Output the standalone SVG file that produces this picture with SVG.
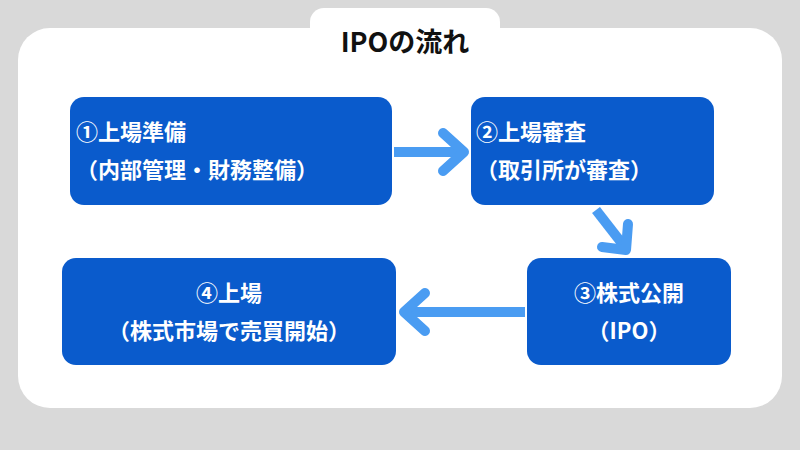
<svg xmlns="http://www.w3.org/2000/svg" width="800" height="450" viewBox="0 0 800 450">
<style>
.box{fill:#0a5bcc}
.t{font-family:"Noto Sans CJK JP","Noto Sans",sans-serif;font-weight:bold;font-size:22px;fill:#fff}
.a{stroke:#4a9cf2;stroke-width:10;fill:none}
.h{fill:none;stroke:#4a9cf2;stroke-width:10;stroke-linecap:round;stroke-linejoin:round}
</style>
<rect width="800" height="450" fill="#d9d9d9"/>
<rect x="18" y="28" width="764" height="380" rx="32" fill="#fff"/>
<rect x="310" y="8" width="190" height="50" rx="14" fill="#fff"/>
<text x="405" y="52" text-anchor="middle" font-family="Noto Sans CJK JP,sans-serif" font-weight="bold" font-size="27" fill="#111">IPOの流れ</text>
<g id="connectors">
<line class="a" x1="394" y1="152" x2="462" y2="152"/>
<polyline class="h" points="443,133 464,152 443,171"/>
<line class="a" x1="596" y1="210" x2="624" y2="246"/>
<polyline class="h" points="602,247 626,250 628,224"/>
<line class="a" x1="525" y1="312" x2="406" y2="312"/>
<polyline class="h" points="425,293 404,312 425,331"/>
</g>
<g id="n1"><rect class="box" x="70" y="97" width="322" height="108" rx="14"/>
<text class="t" x="76" y="140">①上場準備</text><text class="t" x="76" y="178">（内部管理・財務整備）</text></g>
<g id="n2"><rect class="box" x="471" y="97" width="243" height="108" rx="14"/>
<text class="t" x="476" y="140">②上場審査</text><text class="t" x="476" y="178">（取引所が審査）</text></g>
<g id="n3"><rect class="box" x="527" y="258" width="204" height="107" rx="14"/>
<text class="t" x="629" y="301" text-anchor="middle">③株式公開</text><text class="t" x="629" y="339" text-anchor="middle">（IPO）</text></g>
<g id="n4"><rect class="box" x="62" y="258" width="334" height="107" rx="14"/>
<text class="t" x="229" y="301" text-anchor="middle">④上場</text><text class="t" x="229" y="339" text-anchor="middle">（株式市場で売買開始）</text></g>
</svg>
